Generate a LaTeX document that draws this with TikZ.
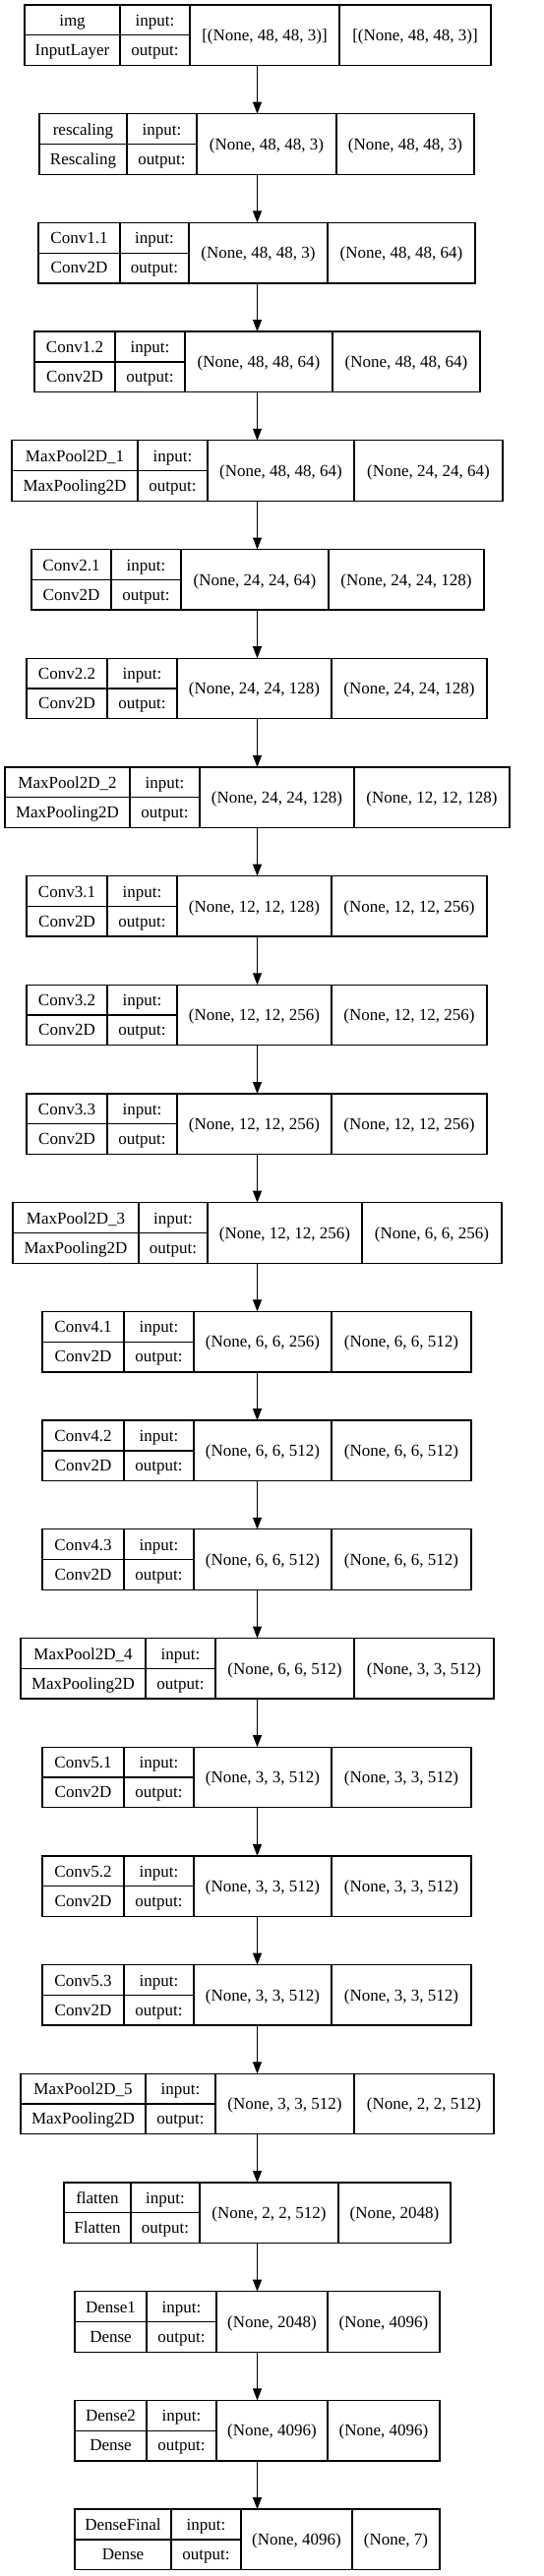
\documentclass[tikz,border=0pt]{standalone}
\usepackage{fontspec}
\setmainfont{Liberation Serif}
\usetikzlibrary{arrows.meta}
\newcounter{lay}
\tikzset{
  lbox/.style={draw, line width=1.3pt, inner sep=0pt, outer sep=0pt, minimum height=61.5pt},
  cell/.style={line width=1.3pt},
  txt/.style={anchor=base, inner sep=0pt, font=\fontsize{17}{20}\selectfont},
  arr/.style={line width=1pt, -{Triangle[length=12pt,width=9pt]}}
}
\newcommand{\layer}[9]{%
  \pgfmathsetmacro\lyt{5+110.7*\value{lay}}%
  \pgfmathsetmacro\lyb{\lyt+61.5}%
  \pgfmathsetmacro\lym{\lyt+30.75}%
  \pgfmathsetmacro\lwid{#5-#1}%
  \edef\lname{b\arabic{lay}}%
  \node[lbox, minimum width=\lwid pt, anchor=north west] (\lname) at (#1,\lyt) {};
  \draw[cell] (#2,\lyt) -- (#2,\lyb) (#3,\lyt) -- (#3,\lyb) (#4,\lyt) -- (#4,\lyb) (#1,\lym) -- (#3,\lym);
  \node[txt] (\lname n) at ({(#1+#2)/2},{\lyt+21.5}) {#6};
  \node[txt] (\lname c) at ({(#1+#2)/2},{\lyt+51.5}) {#7};
  \node[txt] (\lname i) at ({(#2+#3)/2},{\lyt+21.5}) {input:};
  \node[txt] (\lname o) at ({(#2+#3)/2},{\lyt+51.5}) {output:};
  \node[txt] (\lname x) at ({(#3+#4)/2},{\lyt+36.5}) {#8};
  \node[txt] (\lname y) at ({(#4+#5)/2},{\lyt+36.5}) {#9};
  \stepcounter{lay}}
\begin{document}
\begin{tikzpicture}[x=1pt,y=-1pt]
\useasboundingbox (0,0) rectangle (553,2619);
\coordinate (ax) at (261.5,0);
\layer{25}{122}{193}{345}{499}{img}{InputLayer}{[(None, 48, 48, 3)]}{[(None, 48, 48, 3)]}
\layer{40}{129}{200}{342}{482}{rescaling}{Rescaling}{(None, 48, 48, 3)}{(None, 48, 48, 3)}
\layer{39}{122}{192}{333}{483}{Conv1.1}{Conv2D}{(None, 48, 48, 3)}{(None, 48, 48, 64)}
\layer{35}{117}{188}{338}{488}{Conv1.2}{Conv2D}{(None, 48, 48, 64)}{(None, 48, 48, 64)}
\layer{12}{140}{211}{360}{511}{MaxPool2D\_1}{MaxPooling2D}{(None, 48, 48, 64)}{(None, 24, 24, 64)}
\layer{32}{113}{184}{334}{492}{Conv2.1}{Conv2D}{(None, 24, 24, 64)}{(None, 24, 24, 128)}
\layer{27}{109}{180}{337}{495}{Conv2.2}{Conv2D}{(None, 24, 24, 128)}{(None, 24, 24, 128)}
\layer{5}{132}{203}{360}{518}{MaxPool2D\_2}{MaxPooling2D}{(None, 24, 24, 128)}{(None, 12, 12, 128)}
\layer{27}{109}{180}{337}{495}{Conv3.1}{Conv2D}{(None, 12, 12, 128)}{(None, 12, 12, 256)}
\layer{27}{109}{180}{337}{495}{Conv3.2}{Conv2D}{(None, 12, 12, 256)}{(None, 12, 12, 256)}
\layer{27}{109}{180}{337}{495}{Conv3.3}{Conv2D}{(None, 12, 12, 256)}{(None, 12, 12, 256)}
\layer{13}{141}{211}{368}{510}{MaxPool2D\_3}{MaxPooling2D}{(None, 12, 12, 256)}{(None, 6, 6, 256)}
\layer{43}{126}{197}{337}{479}{Conv4.1}{Conv2D}{(None, 6, 6, 256)}{(None, 6, 6, 512)}
\layer{43}{126}{197}{337}{479}{Conv4.2}{Conv2D}{(None, 6, 6, 512)}{(None, 6, 6, 512)}
\layer{43}{126}{197}{337}{479}{Conv4.3}{Conv2D}{(None, 6, 6, 512)}{(None, 6, 6, 512)}
\layer{21}{148}{219}{360}{502}{MaxPool2D\_4}{MaxPooling2D}{(None, 6, 6, 512)}{(None, 3, 3, 512)}
\layer{43}{126}{197}{337}{479}{Conv5.1}{Conv2D}{(None, 3, 3, 512)}{(None, 3, 3, 512)}
\layer{43}{126}{197}{337}{479}{Conv5.2}{Conv2D}{(None, 3, 3, 512)}{(None, 3, 3, 512)}
\layer{43}{126}{197}{337}{479}{Conv5.3}{Conv2D}{(None, 3, 3, 512)}{(None, 3, 3, 512)}
\layer{21}{148}{219}{360}{502}{MaxPool2D\_5}{MaxPooling2D}{(None, 3, 3, 512)}{(None, 2, 2, 512)}
\layer{65}{133}{203}{344}{458}{flatten}{Flatten}{(None, 2, 2, 512)}{(None, 2048)}
\layer{76}{149}{220}{333}{447}{Dense1}{Dense}{(None, 2048)}{(None, 4096)}
\layer{76}{149}{220}{333}{447}{Dense2}{Dense}{(None, 4096)}{(None, 4096)}
\layer{76}{174}{245}{358}{447}{DenseFinal}{Dense}{(None, 4096)}{(None, 7)}
\foreach \i [evaluate=\i as \j using int(\i+1)] in {0,...,22}
  \draw[arr] (b\i.south -| ax) -- (b\j.north -| ax);
\end{tikzpicture}
\end{document}
